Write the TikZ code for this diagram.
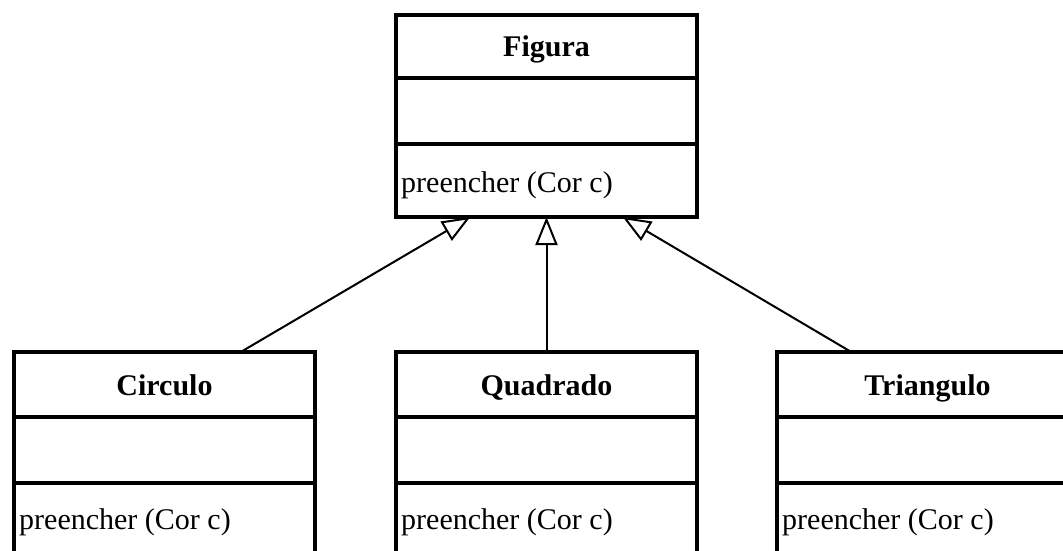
\documentclass[tikz,border=0pt]{standalone}
\usepackage{fontspec}
\setmainfont{Liberation Serif}
\usetikzlibrary{arrows.meta,calc}
\tikzset{
  classbox/.style={draw=black,line width=4pt,minimum width=301pt,anchor=north west,inner sep=0pt},
  divider/.style={line width=4pt},
  title/.style={font=\fontsize{30}{36}\selectfont\bfseries,inner sep=0pt,anchor=base},
  method/.style={font=\fontsize{30}{36}\selectfont,inner sep=0pt,anchor=base west},
  inherit/.style={line width=2pt,-{Triangle[open,length=28pt,width=22pt,line width=2pt]}}
}
\begin{document}
\begin{tikzpicture}[x=1pt,y=1pt]
\clip (0,0) rectangle (1063,-551);
\fill[white] (0,0) rectangle (1063,-551);
% boxes
\node[classbox,minimum height=202pt] (fig) at (394,-13) {};
\node[classbox,minimum height=210pt] (circ) at (12,-350) {};
\node[classbox,minimum height=210pt] (quad) at (394,-350) {};
\node[classbox,minimum height=210pt] (tri) at (775,-350) {};
% dividers
\foreach \b/\ya/\yb in {fig/65/131, circ/67/133, quad/67/133, tri/67/133}{
  \draw[divider] ($(\b.north west)+(0,-\ya)$) -- ($(\b.north east)+(0,-\ya)$);
  \draw[divider] ($(\b.north west)+(0,-\yb)$) -- ($(\b.north east)+(0,-\yb)$);
}
% texts
\node[title] (figt) at ($(fig.north)+(0,-44)$) {Figura};
\node[method] (figm) at ($(fig.north west)+(7,-179)$) {preencher (Cor c)};
\node[title] (circt) at ($(circ.north)+(0,-45)$) {Circulo};
\node[method] (circm) at ($(circ.north west)+(7,-179)$) {preencher (Cor c)};
\node[title] (quadt) at ($(quad.north)+(0,-45)$) {Quadrado};
\node[method] (quadm) at ($(quad.north west)+(7,-179)$) {preencher (Cor c)};
\node[title] (trit) at ($(tri.north)+(0,-45)$) {Triangulo};
\node[method] (trim) at ($(tri.north west)+(7,-179)$) {preencher (Cor c)};
% inheritance arrows
\draw[inherit] ($(circ.north west)!0.75!(circ.north east)+(0,-2)$) -- ($(fig.south west)!0.25!(fig.south east)+(0,2)$);
\draw[inherit] ($(quad.north)+(0,-2)$) -- ($(fig.south)+(0,2)$);
\draw[inherit] ($(tri.north west)!0.25!(tri.north east)+(0,-2)$) -- ($(fig.south west)!0.75!(fig.south east)+(0,2)$);
\end{tikzpicture}
\end{document}
